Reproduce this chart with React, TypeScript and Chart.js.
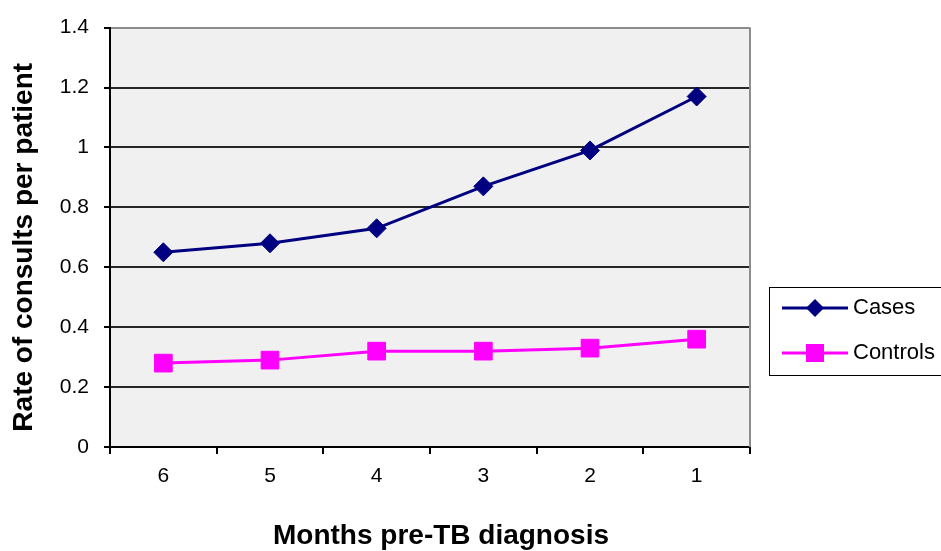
import React, { useEffect, useRef } from 'react';
import { Chart, registerables } from 'chart.js';

Chart.register(...registerables);

const months = ['6', '5', '4', '3', '2', '1'];
const cases = [0.65, 0.68, 0.73, 0.87, 0.99, 1.17];
const controls = [0.28, 0.29, 0.32, 0.32, 0.33, 0.36];
const seriesNames = ['Cases', 'Controls'];
const xTitle = 'Months pre-TB diagnosis';
const yTitle = 'Rate of consults per patient';

const FONT = "'Liberation Sans', Arial, sans-serif";
const CASES_COLOR = '#000080';
const CONTROLS_COLOR = '#FF00FF';

const decor = {
  id: 'decor',
  beforeDraw(chart: any) {
    const { ctx, chartArea } = chart;
    const { left, top, right, bottom } = chartArea;
    ctx.save();
    ctx.fillStyle = '#ffffff';
    ctx.fillRect(0, 0, chart.width, chart.height);
    ctx.fillStyle = '#F0F0F0';
    ctx.fillRect(left, top, right - left, bottom - top);
    ctx.restore();
  },
  afterDraw(chart: any) {
    const { ctx, chartArea } = chart;
    const { left, top, right, bottom } = chartArea;
    ctx.save();
    // right border (gray)
    ctx.strokeStyle = '#8c8c8c';
    ctx.lineWidth = 2;
    ctx.beginPath();
    ctx.moveTo(right, top);
    ctx.lineTo(right, bottom);
    ctx.stroke();

    // axis titles
    ctx.fillStyle = '#000';
    ctx.font = `bold 28px ${FONT}`;
    ctx.textAlign = 'center';
    ctx.textBaseline = 'middle';
    ctx.fillText(xTitle, (left + right) / 2 + 11, 536);
    ctx.save();
    ctx.translate(24, (top + bottom) / 2 + 10);
    ctx.rotate(-Math.PI / 2);
    ctx.fillText(yTitle, 0, 0);
    ctx.restore();

    // legend
    const bx = 769.5, by = 287.5, bw = 200, bh = 88;
    ctx.strokeStyle = '#000';
    ctx.lineWidth = 1;
    ctx.strokeRect(bx, by, bw, bh);
    const rows = [
      { name: seriesNames[0], color: CASES_COLOR, style: 'rectRot', y: 308 },
      { name: seriesNames[1], color: CONTROLS_COLOR, style: 'rect', y: 353 },
    ];
    rows.forEach((row) => {
      ctx.strokeStyle = row.color;
      ctx.lineWidth = 3;
      ctx.beginPath();
      ctx.moveTo(782, row.y);
      ctx.lineTo(848, row.y);
      ctx.stroke();
      ctx.fillStyle = row.color;
      ctx.lineWidth = 1;
      ctx.beginPath();
      if (row.style === 'rectRot') {
        ctx.moveTo(815, row.y - 9);
        ctx.lineTo(824, row.y);
        ctx.lineTo(815, row.y + 9);
        ctx.lineTo(806, row.y);
        ctx.closePath();
      } else {
        ctx.rect(806, row.y - 9, 18, 18);
      }
      ctx.fill();
      ctx.fillStyle = '#000';
      ctx.font = `22px ${FONT}`;
      ctx.textAlign = 'left';
      ctx.textBaseline = 'middle';
      ctx.fillText(row.name, 853, row.y);
    });
    ctx.restore();
  },
};

export default function App() {
  const ref = useRef<HTMLCanvasElement | null>(null);

  useEffect(() => {
    if (!ref.current) return;
    const chart = new Chart(ref.current, {
      type: 'line',
      data: {
        labels: months,
        datasets: [
          {
            label: seriesNames[0],
            data: cases,
            borderColor: CASES_COLOR,
            backgroundColor: CASES_COLOR,
            borderWidth: 3,
            pointStyle: 'rectRot',
            pointRadius: 9.5,
            pointBorderWidth: 1,
            tension: 0,
          },
          {
            label: seriesNames[1],
            data: controls,
            borderColor: CONTROLS_COLOR,
            backgroundColor: CONTROLS_COLOR,
            borderWidth: 3,
            pointStyle: 'rect',
            pointRadius: 12.5,
            pointBorderWidth: 1,
            tension: 0,
          },
        ],
      },
      options: {
        responsive: false,
        animation: false,
        layout: { padding: { left: 0, right: 191, top: 27, bottom: 0 } },
        plugins: {
          legend: { display: false },
          tooltip: { enabled: false },
          title: { display: false },
        },
        scales: {
          x: {
            offset: true,
            grid: {
              offset: true,
              drawOnChartArea: false,
              drawTicks: true,
              tickLength: 7,
              color: '#000',
              lineWidth: 2,
            },
            border: { display: true, color: '#000', width: 2 },
            ticks: {
              color: '#000',
              font: { family: FONT, size: 21 },
              padding: 10,
              maxRotation: 0,
            },
            afterFit(scale: any) {
              scale.height = 104;
            },
          },
          y: {
            min: 0,
            max: 1.4,
            grid: {
              color: (c: any) => (c.tick && Math.abs(c.tick.value - 1.4) < 1e-6 ? '#8c8c8c' : '#262626'),
              tickColor: '#000',
              lineWidth: 2,
              drawTicks: true,
              tickLength: 6,
            },
            border: { display: true, color: '#000', width: 2 },
            ticks: {
              stepSize: 0.2,
              color: '#000',
              font: { family: FONT, size: 21 },
              padding: 15,
              callback: (v: any) => String(Number(Number(v).toFixed(1))),
            },
            afterFit(scale: any) {
              scale.width = 110;
            },
          },
        },
      },
      plugins: [decor],
    });
    return () => chart.destroy();
  }, []);

  return (
    <div style={{ position: 'absolute', left: 0, top: 0, width: 941, height: 551 }}>
      <canvas ref={ref} width={941} height={551} style={{ display: 'block' }} />
    </div>
  );
}
